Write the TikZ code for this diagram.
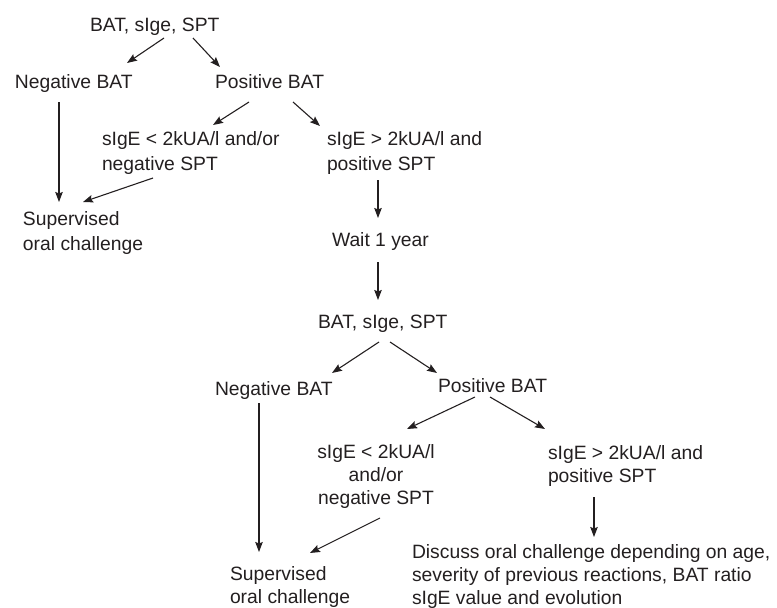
\documentclass[tikz,border=0pt]{standalone}
\usepackage{fontspec}
\setmainfont{Liberation Sans}
\usetikzlibrary{arrows.meta,calc}
\definecolor{ink}{HTML}{231F20}
\begin{document}
\begin{tikzpicture}[x=1pt,y=-1pt,
  txt/.style={inner sep=0pt,outer sep=0pt,text=ink,font=\fontsize{19.3}{25}\selectfont},
  tight/.style={font=\fontsize{19.3}{23}\selectfont},
  lft/.style={txt,anchor=north west,align=left},
  ctr/.style={txt,anchor=north,align=center},
  arr/.style={draw=ink,line width=1.1pt,-{Stealth[length=10pt,width=7.5pt,inset=1.5pt]}}]
\useasboundingbox (0,0) rectangle (777,608);
% top part
\node[lft] (top)  at (90,18)  {BAT, sIge, SPT};
\node[lft] (neg)  at (15,75)  {Negative BAT};
\node[lft] (pos)  at (215,75) {Positive BAT};
\node[lft] (lt)   at (102,132) {sIgE < 2kUA/l and/or\\negative SPT};
\node[lft] (gt)   at (327,132) {sIgE > 2kUA/l and\\positive SPT};
\node[lft] (sup)  at (23,212) {Supervised\\oral challenge};
\node[lft] (wait) at (332,233) {Wait 1 year};
% second part
\node[lft] (top2) at (318,315) {BAT, sIge, SPT};
\node[lft] (neg2) at (215,382) {Negative BAT};
\node[lft] (pos2) at (438,379) {Positive BAT};
\node[ctr,tight] (lt2)  at (376,445) {sIgE < 2kUA/l\\and/or\\negative SPT};
\node[lft,tight] (gt2)  at (548,446) {sIgE > 2kUA/l and\\positive SPT};
\node[lft,tight] (disc) at (412,545) {Discuss oral challenge depending on age,\\severity of previous reactions, BAT ratio\\sIgE value and evolution};
\node[lft,tight] (sup2) at (230,567) {Supervised\\oral challenge};
% arrows
\draw[arr] ($(top.north west)+(74,20)$) -- ($(neg.north west)+(112,-12)$);
\draw[arr] ($(top.north west)+(103,20)$) -- ($(pos.north west)+(5,-8)$);
\draw[arr] ($(pos.north west)+(34,27)$) -- ($(lt.north west)+(111,-7)$);
\draw[arr] ($(pos.north west)+(78,27)$) -- ($(gt.north west)+(-7,-6)$);
\draw[arr] ($(neg.north west)+(44,27)$) -- ($(sup.north west)+(36,-10)$);
\draw[arr] ($(lt.north west)+(51,46)$) -- ($(sup.north west)+(60,-10)$);
\draw[arr] ($(gt.north west)+(51,48)$) -- ($(wait.north west)+(46,-15)$);
\draw[arr] ($(wait.north west)+(46,29)$) -- ($(top2.north west)+(60,-15)$);
\draw[arr] ($(top2.north west)+(61,27)$) -- ($(neg2.north west)+(117,-9)$);
\draw[arr] ($(top2.north west)+(72,27)$) -- ($(pos2.north west)+(-1,-6)$);
\draw[arr] ($(pos2.north west)+(37,18)$) -- ($(lt2.north)+(31,-16)$);
\draw[arr] ($(pos2.north west)+(52,18)$) -- ($(gt2.north west)+(-3,-17)$);
\draw[arr] ($(neg2.north west)+(44,21)$) -- ($(sup2.north west)+(29,-15)$);
\draw[arr] ($(gt2.north west)+(46,51)$) -- ($(disc.north west)+(182,-8)$);
\draw[arr] ($(lt2.north)+(4,73)$) -- ($(sup2.north west)+(80,-14)$);
\end{tikzpicture}
\end{document}
